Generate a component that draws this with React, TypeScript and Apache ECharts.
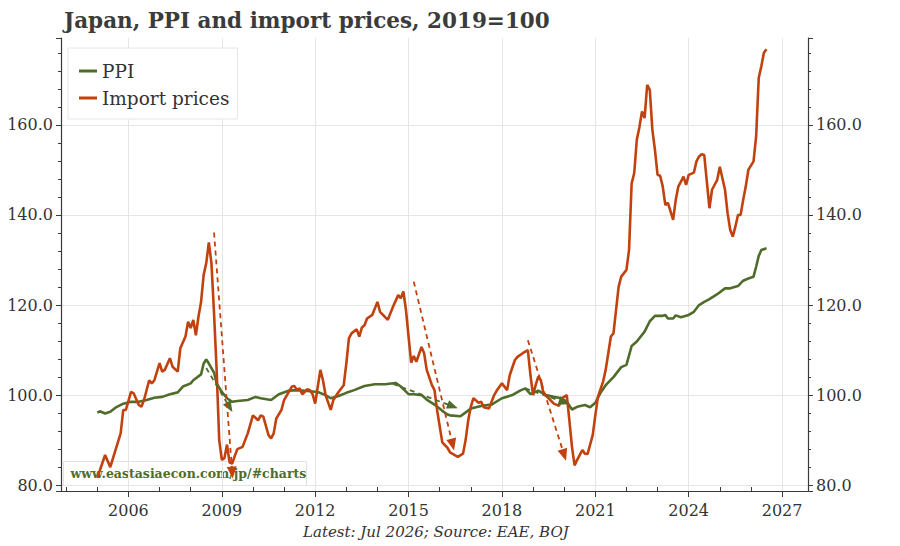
import React, { useEffect, useRef } from 'react';
import * as echarts from 'echarts';

// ---------- data ----------
const ppiDates = [
  '2005-01','2005-02','2005-04','2005-06','2005-08','2005-11','2006-02','2006-05','2006-08','2006-11',
  '2007-02','2007-05','2007-08','2007-10','2008-01','2008-02','2008-05','2008-06','2008-07','2008-08',
  '2008-10','2008-11','2009-01','2009-03','2009-05','2009-07','2009-11','2010-02','2010-04','2010-08',
  '2010-11','2011-03','2011-06','2011-10','2012-02','2012-05','2012-07','2012-10','2013-01','2013-04',
  '2013-08','2013-12','2014-04','2014-08','2014-10','2015-01','2015-03','2015-06','2015-08','2015-11',
  '2016-02','2016-04','2016-05','2016-09','2017-01','2017-05','2017-09','2018-01','2018-05','2018-08',
  '2018-10','2018-12','2019-03','2019-06','2019-09','2019-12','2020-02','2020-04','2020-06','2020-09',
  '2020-11','2021-01','2021-03','2021-05','2021-08','2021-11','2022-01','2022-03','2022-05','2022-08',
  '2022-10','2022-12','2023-03','2023-04','2023-05','2023-07','2023-08','2023-10','2024-01','2024-03',
  '2024-05','2024-07','2024-09','2024-12','2025-03','2025-05','2025-08','2025-10','2025-12','2026-02',
  '2026-03','2026-04','2026-05','2026-07'
];
const ppiValues = [
  96.1, 96.4, 95.9, 96.3, 97.2, 98.1, 98.5, 98.5, 98.9, 99.4,
  99.6, 100.2, 100.6, 101.9, 102.6, 103.3, 104.6, 107.0, 107.9, 107.0,
  105.0, 102.6, 100.7, 99.3, 98.5, 98.7, 98.9, 99.6, 99.3, 98.9,
  100.2, 101.0, 101.1, 100.9, 100.7, 100.0, 99.3, 99.8, 100.5, 101.1,
  102.0, 102.4, 102.4, 102.7, 101.9, 100.2, 100.2, 100.0, 99.0, 97.9,
  96.5, 95.7, 95.5, 95.3, 97.0, 97.6, 97.9, 99.3, 100.0, 101.0,
  101.5, 100.2, 101.0, 100.0, 99.6, 99.3, 98.5, 96.8, 97.4, 97.8,
  97.3, 98.3, 100.5, 102.2, 104.0, 106.2, 106.7, 110.9, 111.9, 114.1,
  116.4, 117.6, 117.6, 117.8, 117.0, 117.0, 117.7, 117.3, 117.8, 118.5,
  120.0, 120.7, 121.3, 122.4, 123.7, 123.7, 124.2, 125.4, 125.9, 126.3,
  128.5, 130.9, 132.2, 132.6
];

const impDates = [
  '2005-01','2005-04','2005-06','2005-08','2005-10','2005-11','2005-12','2006-02','2006-03','2006-05',
  '2006-06','2006-07','2006-09','2006-10','2006-11','2007-01','2007-02','2007-03','2007-05','2007-06',
  '2007-08','2007-09','2007-11','2007-12','2008-01','2008-02','2008-03','2008-04','2008-05','2008-06',
  '2008-07','2008-08','2008-09','2008-10','2008-11','2008-12','2009-01','2009-02','2009-03','2009-04',
  '2009-05','2009-06','2009-07','2009-09','2009-11','2010-01','2010-03','2010-04','2010-05','2010-07',
  '2010-08','2010-09','2010-10','2010-12','2011-01','2011-04','2011-05','2011-06','2011-07','2011-08',
  '2011-10','2011-11','2011-12','2012-01','2012-02','2012-03','2012-04','2012-05','2012-07','2012-08',
  '2012-10','2012-12','2013-01','2013-02','2013-03','2013-05','2013-06','2013-07','2013-08','2013-09',
  '2013-11','2014-01','2014-02','2014-05','2014-06','2014-07','2014-09','2014-10','2014-11','2014-12',
  '2015-01','2015-02','2015-03','2015-04','2015-06','2015-07','2015-08','2015-10','2015-11','2015-12',
  '2016-02','2016-04','2016-05','2016-08','2016-10','2016-11','2016-12','2017-01','2017-02','2017-04',
  '2017-05','2017-06','2017-08','2017-10','2017-11','2018-01','2018-03','2018-04','2018-06','2018-07',
  '2018-09','2018-11','2018-12','2019-01','2019-02','2019-03','2019-04','2019-05','2019-07','2019-09',
  '2019-11','2019-12','2020-02','2020-03','2020-04','2020-05','2020-06','2020-08','2020-09','2020-10',
  '2020-12','2021-01','2021-02','2021-04','2021-05','2021-06','2021-07','2021-08','2021-09','2021-10',
  '2021-11','2022-01','2022-02','2022-03','2022-04','2022-05','2022-06','2022-07','2022-08','2022-09',
  '2022-10','2022-11','2022-12','2023-01','2023-02','2023-03','2023-04','2023-05','2023-07','2023-08',
  '2023-09','2023-11','2023-12','2024-01','2024-03','2024-04','2024-05','2024-06','2024-07','2024-09',
  '2024-10','2024-12','2025-01','2025-03','2025-04','2025-05','2025-06','2025-07','2025-08','2025-09',
  '2025-10','2025-11','2025-12','2026-02','2026-03','2026-04','2026-05','2026-06','2026-07'
];
const impValues = [
  81.6, 86.7, 84.0, 87.8, 91.5, 96.7, 96.7, 100.7, 100.4, 97.8,
  97.4, 98.9, 103.3, 102.6, 103.3, 107.1, 105.2, 105.6, 108.2, 106.3,
  105.2, 110.4, 113.0, 116.3, 114.9, 116.7, 113.3, 117.4, 120.7, 126.7,
  129.3, 133.9, 129.3, 118.2, 105.6, 90.0, 85.6, 86.0, 89.0, 85.0,
  84.8, 86.5, 88.0, 88.5, 91.5, 95.5, 94.4, 95.5, 95.2, 91.1,
  90.4, 91.5, 94.8, 96.7, 98.9, 101.9, 102.0, 101.1, 101.5, 100.2,
  101.3, 101.1, 100.2, 98.1, 101.9, 105.6, 103.3, 100.0, 96.7, 98.9,
  100.7, 102.2, 107.0, 112.6, 113.7, 114.6, 113.0, 115.0, 115.5, 117.0,
  117.8, 120.7, 118.5, 116.7, 118.2, 119.6, 122.2, 121.5, 123.0, 118.9,
  113.0, 107.2, 108.7, 107.4, 110.7, 109.3, 105.6, 102.2, 101.1, 96.7,
  89.5, 88.3, 87.3, 86.3, 87.0, 90.0, 94.4, 97.4, 99.3, 98.3,
  98.5, 97.3, 97.0, 100.0, 101.0, 102.6, 101.1, 104.4, 107.8, 108.5,
  109.3, 110.0, 104.4, 100.0, 102.2, 104.1, 103.3, 100.4, 99.3, 98.1,
  97.6, 99.3, 100.0, 94.4, 88.5, 84.4, 85.6, 87.8, 87.0, 86.9,
  91.1, 95.5, 99.6, 103.0, 105.6, 109.3, 113.0, 113.7, 118.9, 124.1,
  126.3, 127.8, 132.2, 147.0, 149.3, 156.7, 159.5, 163.0, 161.5, 168.9,
  167.8, 158.9, 154.4, 148.9, 148.7, 146.3, 142.2, 142.7, 138.9, 143.3,
  146.3, 148.5, 146.7, 148.9, 149.4, 151.9, 153.0, 153.5, 153.3, 141.5,
  145.6, 147.8, 150.7, 145.6, 140.4, 136.7, 135.2, 137.4, 140.0, 140.0,
  143.3, 146.3, 150.0, 151.9, 157.4, 170.4, 173.0, 176.0, 176.8
];

// dashed annotation arrows: [fromDate, fromValue, toDate, toValue]
const impArrows: [string, number, string, number][] = [
  ['2008-10', 136.1, '2009-05', 82.8],
  ['2015-03', 125.2, '2016-06', 89.0],
  ['2018-11', 112.2, '2020-01', 86.7],
];
const ppiArrows: [string, number, string, number][] = [
  ['2008-07', 106.0, '2009-04', 97.3],
  ['2014-07', 102.5, '2016-06', 97.5],
  ['2018-10', 101.5, '2020-01', 98.4],
];

const axisStartMonth = '2003-11';
const axisEndMonth = '2027-11';
const firstLabelYear = 2006;
const labelEveryYears = 3;
const yMin = 78.7;
const yMax = 179.3;

const titleText = 'Japan, PPI and import prices, 2019=100';
const footerText = 'Latest: Jul 2026; Source: EAE, BOJ';
const watermarkText = 'www.eastasiaecon.com/jp/#charts';

// ---------- helpers ----------
function buildMonths(start: string, end: string): string[] {
  const out: string[] = [];
  let y = parseInt(start.slice(0, 4), 10);
  let m = parseInt(start.slice(5, 7), 10);
  const ey = parseInt(end.slice(0, 4), 10);
  const em = parseInt(end.slice(5, 7), 10);
  while (y < ey || (y === ey && m <= em)) {
    out.push(`${y}-${m < 10 ? '0' + m : m}`);
    m++;
    if (m > 12) { m = 1; y++; }
  }
  return out;
}
const months = buildMonths(axisStartMonth, axisEndMonth);
const isJan = (v: string) => v.slice(5, 7) === '01';
const isMajor = (v: string) =>
  isJan(v) && (parseInt(v.slice(0, 4), 10) - firstLabelYear) % labelEveryYears === 0;

const FONT = "'DejaVu Serif', Georgia, serif";
const GREEN = '#4f6c2b';
const ORANGE = '#c1420f';
const AXIS = '#3a3a3a';
const GRID = '#e6e6e6';
const TEXT = '#333333';

function arrowData(arr: [string, number, string, number][]) {
  return arr.map(([d1, v1, d2, v2]) => [
    { coord: [months.indexOf(d1), v1] },
    { coord: [months.indexOf(d2), v2] },
  ]);
}

export default function App() {
  const ref = useRef<HTMLDivElement>(null);
  useEffect(() => {
    if (!ref.current) return;
    const chart = echarts.init(ref.current, undefined, { renderer: 'svg' });
    const yAxisCommon = {
      type: 'value',
      min: yMin,
      max: yMax,
      splitNumber: 5,
      axisLine: { show: true, lineStyle: { color: AXIS, width: 1.2 } },
      axisTick: { show: true, length: 5, lineStyle: { color: AXIS } },
      minorTick: { show: true, splitNumber: 5, length: 3, lineStyle: { color: AXIS } },
      axisLabel: {
        formatter: (v: number) => v.toFixed(1),
        showMinLabel: false,
        showMaxLabel: false,
        fontFamily: FONT,
        fontSize: 16,
        color: TEXT,
        margin: 8,
      },
    };
    chart.setOption({
      animation: false,
      backgroundColor: '#ffffff',
      title: {
        text: titleText,
        left: 59,
        top: 4,
        textStyle: { fontFamily: FONT, fontSize: 21.5, fontWeight: 'bold', color: '#3b3b3b' },
      },
      legend: {
        orient: 'vertical',
        left: 68,
        top: 48,
        backgroundColor: '#ffffff',
        borderColor: '#e6e6e6',
        borderWidth: 1,
        padding: [12, 8, 10, 11],
        itemGap: 5,
        itemWidth: 18,
        itemHeight: 3,
        icon: 'rect',
        textStyle: { fontFamily: FONT, fontSize: 18.5, color: TEXT, lineHeight: 22 },
        data: ['PPI', 'Import prices'],
      },
      grid: { left: 61, right: 92, top: 38, bottom: 55 },
      xAxis: [
        {
          type: 'category',
          data: months,
          boundaryGap: false,
          position: 'bottom',
          axisLine: { show: true, lineStyle: { color: AXIS, width: 1.2 } },
          axisTick: {
            show: true,
            length: 6,
            interval: (_i: number, v: string) => isMajor(v),
            lineStyle: { color: AXIS },
          },
          axisLabel: {
            interval: (_i: number, v: string) => isMajor(v),
            formatter: (v: string) => v.slice(0, 4),
            fontFamily: FONT,
            fontSize: 16,
            color: TEXT,
            margin: 11,
          },
          splitLine: {
            show: true,
            interval: (_i: number, v: string) => isMajor(v),
            lineStyle: { color: GRID },
          },
        },
        {
          type: 'category',
          data: months,
          boundaryGap: false,
          position: 'bottom',
          axisLine: { show: false },
          axisTick: {
            show: true,
            inside: true,
            length: 4,
            interval: (_i: number, v: string) => isJan(v) && !isMajor(v),
            lineStyle: { color: AXIS },
          },
          axisLabel: { show: false },
          splitLine: { show: false },
        },
      ],
      yAxis: [
        {
          ...yAxisCommon,
          position: 'left',
          splitLine: { show: true, showMinLine: false, showMaxLine: false, lineStyle: { color: GRID } },
        },
        {
          ...yAxisCommon,
          position: 'right',
          splitLine: { show: false },
        },
      ],
      series: [
        {
          name: 'PPI',
          type: 'line',
          xAxisIndex: 0,
          yAxisIndex: 0,
          showSymbol: false,
          color: GREEN,
          lineStyle: { width: 2.6, color: GREEN },
          data: ppiDates.map((d, i) => [d, ppiValues[i]]),
          markLine: {
            silent: true,
            symbol: ['none', 'triangle'],
            symbolSize: [9, 11],
            label: { show: false },
            lineStyle: { type: [5, 4], width: 1.8, color: GREEN },
            data: arrowData(ppiArrows),
          },
        },
        {
          name: 'Import prices',
          type: 'line',
          xAxisIndex: 0,
          yAxisIndex: 0,
          showSymbol: false,
          color: ORANGE,
          lineStyle: { width: 2.6, color: ORANGE },
          data: impDates.map((d, i) => [d, impValues[i]]),
          markLine: {
            silent: true,
            symbol: ['none', 'triangle'],
            symbolSize: [10, 12],
            label: { show: false },
            lineStyle: { type: [5, 4], width: 1.8, color: ORANGE },
            data: arrowData(impArrows),
          },
        },
      ],
      graphic: [
        {
          type: 'group',
          left: 63,
          top: 461,
          z: 100,
          children: [
            {
              type: 'rect',
              shape: { x: 0, y: 0, width: 243, height: 24 },
              style: { fill: 'rgba(255,255,255,0.72)', stroke: '#e2e2e2', lineWidth: 1 },
            },
            {
              type: 'text',
              x: 7,
              y: 12,
              style: {
                text: watermarkText,
                fill: GREEN,
                font: `bold 12.5px ${FONT}`,
                textVerticalAlign: 'middle',
              },
            },
          ],
        },
        {
          type: 'text',
          left: 303,
          top: 524,
          style: {
            text: footerText,
            fill: TEXT,
            font: `italic 15px ${FONT}`,
          },
        },
      ],
    });
    return () => chart.dispose();
  }, []);
  return (
    <div
      ref={ref}
      style={{ position: 'fixed', left: 0, top: 0, width: 900, height: 546, background: '#fff' }}
    />
  );
}
